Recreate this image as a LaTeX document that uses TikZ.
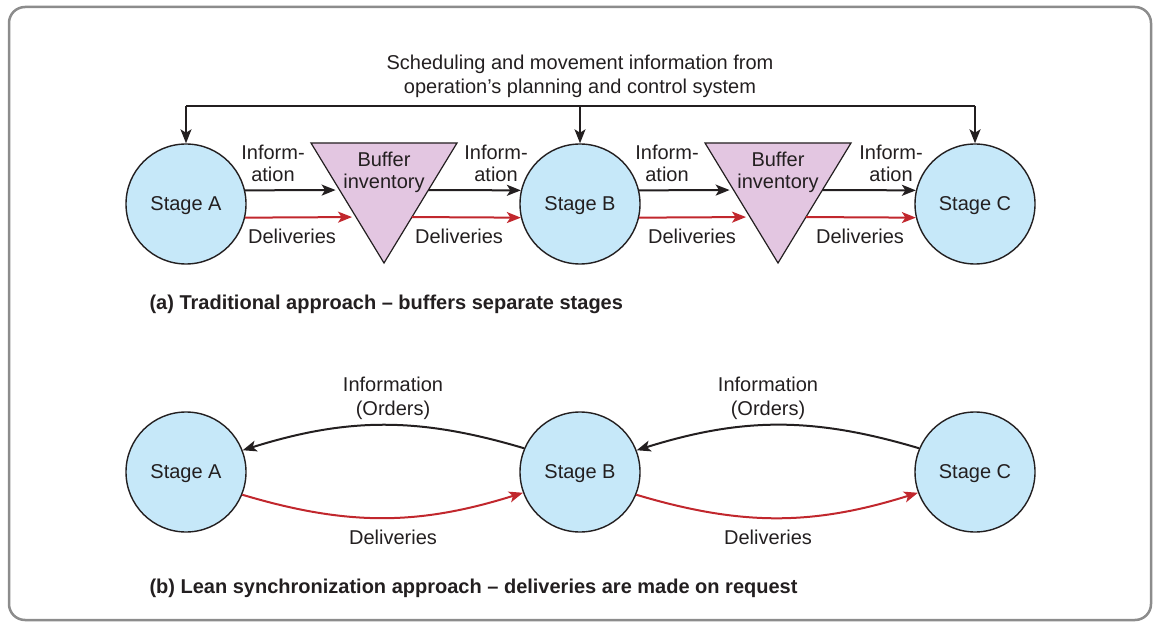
\documentclass[tikz,border=0pt]{standalone}
\usepackage{fontspec}
\setmainfont{Liberation Sans}
\usetikzlibrary{arrows.meta,calc}
\definecolor{stagefill}{HTML}{C6E8F9}
\definecolor{buffill}{HTML}{E3C6E1}
\definecolor{dred}{HTML}{C1272D}
\definecolor{txt}{HTML}{231F20}
\definecolor{framegray}{HTML}{8C8C8C}
\begin{document}
\begin{tikzpicture}[x=1pt,y=1pt,
  every node/.style={text=txt,font=\fontsize{20}{24}\selectfont},
  stage/.style={circle,draw=txt,line width=1.4pt,fill=stagefill,minimum size=120pt,inner sep=0pt,text depth=0pt},
  buf/.style={draw=txt,line width=1.2pt,fill=buffill,line join=miter},
  tip/.style={-{Stealth[length=14pt,width=11pt,inset=3.5pt]}},
  infoarr/.style={tip,draw=txt,line width=2pt},
  delarr/.style={tip,draw=dred,color=dred,line width=2pt},
  lbl/.style={align=center,font=\fontsize{20}{22}\selectfont},
  captxt/.style={anchor=west,font=\fontsize{20}{24}\selectfont\bfseries}]
\useasboundingbox (0,0) rectangle (1156,622);
\draw[framegray,line width=2.5pt,rounded corners=16pt] (9,2) rectangle (1151,615);

% ---------- (a) ----------
\node[stage] (A) at (186,418) {Stage A};
\node[stage] (B) at (580,418) {Stage B};
\node[stage] (C) at (975,418) {Stage C};

\coordinate (t1l) at (311,479); \coordinate (t1r) at (457,479); \coordinate (t1a) at (384,359);
\coordinate (t2l) at (705,479); \coordinate (t2r) at (851,479); \coordinate (t2a) at (778,359);
\draw[buf] (t1l) -- (t1r) -- (t1a) -- cycle;
\draw[buf] (t2l) -- (t2r) -- (t2a) -- cycle;
\node[lbl] (buf1) at (384,450) {Buffer\\inventory};
\node[lbl] (buf2) at (778,450) {Buffer\\inventory};

\coordinate (t1li) at ($(t1l)!0.392!(t1a)$); \coordinate (t1ld) at ($(t1l)!0.617!(t1a)$);
\coordinate (t1ri) at ($(t1r)!0.392!(t1a)$); \coordinate (t1rd) at ($(t1r)!0.617!(t1a)$);
\coordinate (t2li) at ($(t2l)!0.392!(t2a)$); \coordinate (t2ld) at ($(t2l)!0.617!(t2a)$);
\coordinate (t2ri) at ($(t2r)!0.392!(t2a)$); \coordinate (t2rd) at ($(t2r)!0.617!(t2a)$);

\draw[infoarr,shorten >=4pt] (A.13) -- (t1li);
\draw[delarr,shorten >=4pt] (A.-13) -- (t1ld);
\draw[infoarr] (t1ri) -- (B.167);
\draw[delarr] (t1rd) -- (B.193);
\draw[infoarr,shorten >=4pt] (B.13) -- (t2li);
\draw[delarr,shorten >=4pt] (B.-13) -- (t2ld);
\draw[infoarr] (t2ri) -- (C.167);
\draw[delarr] (t2rd) -- (C.193);

\node[lbl] (i1) at (273,458.5) {Inform-\\ation};
\node[lbl] (i2) at (496,458.5) {Inform-\\ation};
\node[lbl] (i3) at (667,458.5) {Inform-\\ation};
\node[lbl] (i4) at (891,458.5) {Inform-\\ation};
\node (d1) at (292,386) {Deliveries};
\node (d2) at (459,386) {Deliveries};
\node (d3) at (692,386) {Deliveries};
\node (d4) at (860,386) {Deliveries};

\node[align=center] (sched) at (580,546) {Scheduling and movement information from\\operation’s planning and control system};
\coordinate (topA) at (186,516);
\coordinate (topB) at (580,516);
\coordinate (topC) at (975,516);
\draw[txt,line width=2pt] (topA) -- (topC);
\draw[infoarr] (topA) -- (A.north);
\draw[infoarr] (topB) -- (B.north);
\draw[infoarr] (topC) -- (C.north);

\node[captxt] (capa) at (146,318) {(a) Traditional approach – buffers separate stages};

% ---------- (b) ----------
\node[stage] (A2) at (186,150) {Stage A};
\node[stage] (B2) at (580,150) {Stage B};
\node[stage] (C2) at (975,150) {Stage C};

\draw[infoarr] (B2.157) to[bend right=17] (A2.21);
\draw[delarr] (A2.-22) to[bend right=17] (B2.200);
\draw[infoarr] (C2.157) to[bend right=17] (B2.21);
\draw[delarr] (B2.-22) to[bend right=17] (C2.200);

\node[align=center] (o1) at (393,224) {Information\\(Orders)};
\node[align=center] (o2) at (768,224) {Information\\(Orders)};
\node (e1) at (393,85) {Deliveries};
\node (e2) at (768,85) {Deliveries};

\node[captxt] (capb) at (146,34) {(b) Lean synchronization approach – deliveries are made on request};
\end{tikzpicture}
\end{document}
